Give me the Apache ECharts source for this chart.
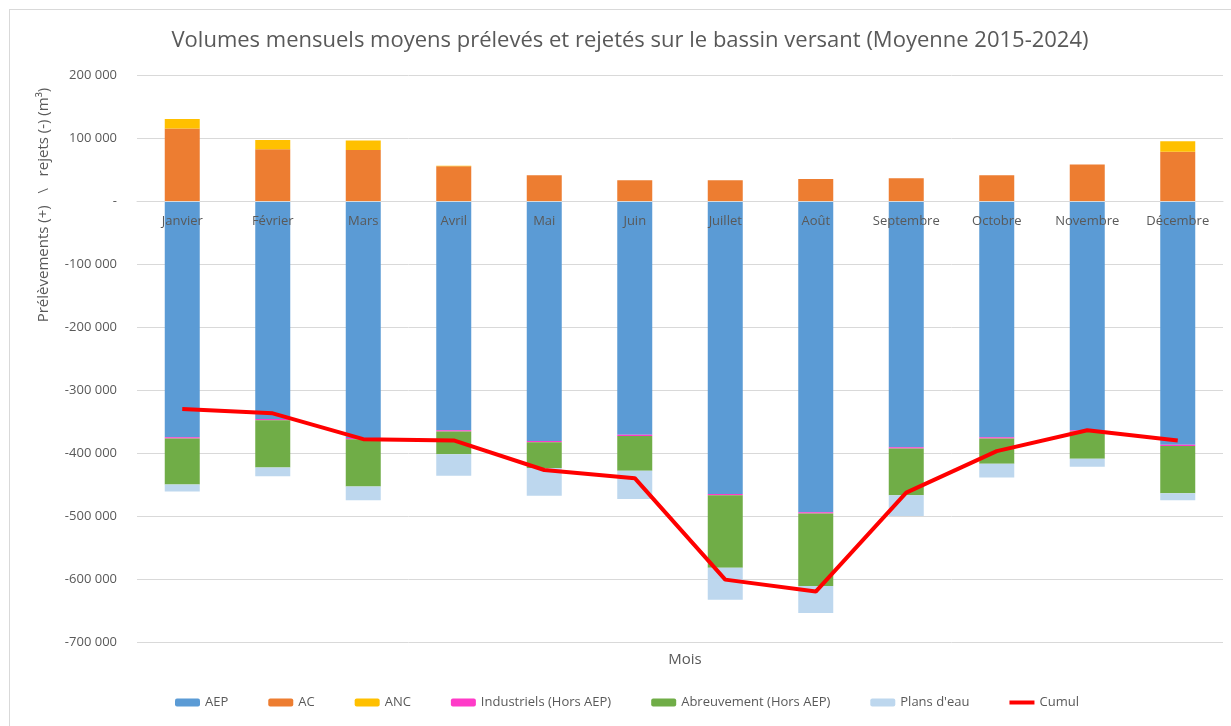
<!DOCTYPE html>
<html>
<head>
<meta charset="utf-8">
<script src="https://cdn.jsdelivr.net/npm/echarts@6/dist/echarts.min.js"></script>
<style>
  html, body { margin: 0; padding: 0; background: #fff; }
  #main { width: 1231px; height: 726px; }
  #frame { position: absolute; left: 9px; top: 9px; width: 1240px; height: 740px; border: 1px solid #d9d9d9; pointer-events: none; }
</style>
</head>
<body>
<div id="main"></div>
<div id="frame"></div>
<script>
// mois
var mois = ['Janvier', 'Février', 'Mars', 'Avril', 'Mai', 'Juin', 'Juillet', 'Août', 'Septembre', 'Octobre', 'Novembre', 'Décembre'];

// volumes (m3)
var aep = [-375000, -346000, -376000, -364000, -381000, -371000, -465000, -494000, -391000, -375000, -364000, -387000];
var ac = [115000, 82000, 81000, 55000, 41000, 33000, 33000, 35000, 36000, 41000, 58000, 78000];
var anc = [15000, 15000, 15000, 1000, 0, 0, 0, 0, 0, 0, 0, 17000];
var industriels = [-2000, -2000, -2000, -2000, -2000, -2000, -2000, -2000, -2000, -2000, -2000, -2000];
var abreuvement = [-73000, -75000, -75000, -36000, -41000, -55000, -115000, -115000, -74000, -40000, -43000, -75000];
var plansEau = [-11000, -14000, -22000, -34000, -44000, -45000, -51000, -43000, -33000, -22000, -13000, -11000];
var cumul = [-330000, -337000, -378000, -380000, -427000, -440000, -601000, -620000, -463000, -397000, -364000, -380000];

var font = 'Open Sans';
var gris = '#595959';

function fmt(v) {
  if (v === 0) return '-';
  var s = Math.abs(v).toString().replace(/\B(?=(\d{3})+(?!\d))/g, ' ');
  return (v < 0 ? '-' : '') + s;
}

function barre(nom, data, couleur) {
  return {
    name: nom,
    type: 'bar',
    stack: 'total',
    barWidth: 35,
    itemStyle: { color: couleur },
    data: data
  };
}

var chart = echarts.init(document.getElementById('main'));

var option = {
  animation: false,
  textStyle: { fontFamily: font },
  title: [{
    text: 'Volumes mensuels moyens prélevés et rejetés sur le bassin versant (Moyenne 2015-2024)',
    left: 625,
    textAlign: 'center',
    top: 25,
    textStyle: { fontSize: 22, fontWeight: 'normal', color: gris, fontFamily: font }
  }, {
    text: 'Mois',
    left: 680,
    top: 647,
    textAlign: 'center',
    textStyle: { fontSize: 15, fontWeight: 'normal', color: gris, fontFamily: font }
  }],
  graphic: [{
    type: 'text',
    x: 44,
    y: 205,
    rotation: Math.PI / 2,
    style: {
      text: 'Prélèvements (+)   \\   rejets (-) (m³)',
      fill: gris,
      font: '15px "Open Sans"',
      textAlign: 'center',
      textVerticalAlign: 'middle'
    }
  }],
  legend: {
    bottom: 12,
    left: 170,
    itemGap: 40,
    itemWidth: 25,
    itemHeight: 8,
    textStyle: { fontSize: 13, color: gris },
    data: ['AEP', 'AC', 'ANC', 'Industriels (Hors AEP)', 'Abreuvement (Hors AEP)', "Plans d'eau",
      { name: 'Cumul', icon: 'path://M0,2h25v4h-25z' }]
  },
  grid: {
    left: 137,
    right: 8,
    top: 75,
    bottom: 84
  },
  xAxis: {
    type: 'category',
    data: mois,
    z: 10,
    offset: -441,
    axisLine: { onZero: false, lineStyle: { color: '#d9d9d9', width: 1 } },
    axisTick: { show: false },
    axisLabel: { color: gris, fontSize: 13, margin: 14 }
  },
  yAxis: {
    type: 'value',
    min: -700000,
    max: 200000,
    interval: 100000,
    axisLine: { show: false },
    axisTick: { show: false },
    axisLabel: { color: gris, fontSize: 13, margin: 20, formatter: fmt },
    splitLine: { lineStyle: { color: '#d9d9d9', width: 1 } }
  },
  series: [
    barre('AEP', aep, '#5b9bd5'),
    barre('AC', ac, '#ed7d31'),
    barre('ANC', anc, '#ffc000'),
    barre('Industriels (Hors AEP)', industriels, '#ff3bc8'),
    barre('Abreuvement (Hors AEP)', abreuvement, '#70ad47'),
    barre("Plans d'eau", plansEau, '#bdd7ee'),
    {
      name: 'Cumul',
      type: 'line',
      data: cumul,
      symbol: 'none',
      z: 5,
      lineStyle: { color: '#ff0000', width: 4 },
      itemStyle: { color: '#ff0000' }
    }
  ]
};

chart.setOption(option);
</script>
</body>
</html>
